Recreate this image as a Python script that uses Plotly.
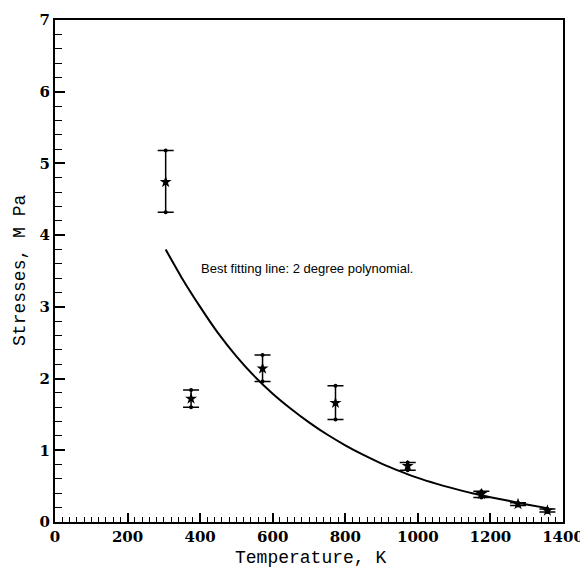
import plotly.graph_objects as go

# Measured data (Temperature K, Stress MPa) with error bars
temp = [305, 375, 572, 773, 972, 1175, 1276, 1357]
stress = [4.74, 1.72, 2.14, 1.66, 0.78, 0.39, 0.25, 0.16]
err_plus = [0.44, 0.12, 0.19, 0.24, 0.05, 0.04, 0.02, 0.02]
err_minus = [0.42, 0.12, 0.18, 0.23, 0.06, 0.05, 0.02, 0.02]

# Best fitting curve
fit_temp = [305, 350, 400, 450, 500, 550, 600, 650, 700, 750, 800, 850, 900,
            950, 1000, 1050, 1100, 1150, 1200, 1250, 1300, 1360]
fit_stress = [3.80, 3.40, 3.00, 2.63, 2.31, 2.03, 1.79, 1.58, 1.39, 1.22, 1.07, 0.935, 0.815,
              0.71, 0.615, 0.535, 0.465, 0.40, 0.345, 0.295, 0.245, 0.19]

x_ticks = [0, 200, 400, 600, 800, 1000, 1200, 1400]
y_ticks = [0, 1, 2, 3, 4, 5, 6, 7]

fig = go.Figure()

fig.add_trace(go.Scatter(
    x=fit_temp, y=fit_stress, mode="lines",
    line=dict(color="black", width=2, shape="spline", smoothing=0.6),
    showlegend=False, hoverinfo="skip",
))

# small dots at the error-bar ends
ends_x = temp + temp
ends_y = [s + p for s, p in zip(stress, err_plus)] + [s - m for s, m in zip(stress, err_minus)]
fig.add_trace(go.Scatter(
    x=ends_x, y=ends_y, mode="markers",
    marker=dict(symbol="circle", size=4, color="black"),
    showlegend=False, hoverinfo="skip",
))

fig.add_trace(go.Scatter(
    x=temp, y=stress, mode="markers",
    marker=dict(symbol="star", size=9, color="black"),
    error_y=dict(type="data", array=err_plus, arrayminus=err_minus,
                 color="black", thickness=1.5, width=8, symmetric=False),
    showlegend=False,
))

fig.add_annotation(
    x=398, y=3.53, xref="x", yref="y", xanchor="left", yanchor="middle",
    text="Best fitting line: 2 degree polynomial.", showarrow=False,
    font=dict(family="Liberation Sans, Arial, sans-serif", size=13, color="black"),
)

tickfont = dict(family="DejaVu Serif", size=15, color="black", weight="bold")
titlefont = dict(family="Liberation Mono, Courier New, monospace", size=18, color="black")

# axis titles as annotations
fig.add_annotation(
    x=0.502, y=-0.072, xref="paper", yref="paper", xanchor="center", yanchor="middle",
    text="Temperature, K", showarrow=False, font=titlefont,
)
fig.add_annotation(
    x=-0.069, y=0.502, xref="paper", yref="paper", xanchor="center", yanchor="middle",
    text="Stresses, M Pa", showarrow=False, font=titlefont, textangle=-90,
)

fig.update_xaxes(
    range=[0, 1400], tickvals=x_ticks, ticktext=[str(v) for v in x_ticks],
    ticks="inside", ticklen=9, tickwidth=1.5, tickcolor="black",
    minor=dict(dtick=20, ticks="inside", ticklen=5, tickwidth=1.2, tickcolor="black"),
    showline=True, linecolor="black", linewidth=2, mirror=True,
    showgrid=False, zeroline=False, tickfont=tickfont, automargin=False,
)
fig.update_yaxes(
    range=[0, 7], tickvals=y_ticks, ticktext=[str(v) for v in y_ticks],
    ticks="inside", ticklen=10, tickwidth=1.5, tickcolor="black",
    minor=dict(dtick=0.2, ticks="inside", ticklen=7, tickwidth=1.2, tickcolor="black"),
    showline=True, linecolor="black", linewidth=2, mirror=True,
    showgrid=False, zeroline=False, tickfont=tickfont, automargin=False,
)

fig.update_layout(
    width=580, height=563,
    margin=dict(l=47, r=25, t=12, b=49),
    plot_bgcolor="white", paper_bgcolor="white",
)

fig.write_html("out.html")
